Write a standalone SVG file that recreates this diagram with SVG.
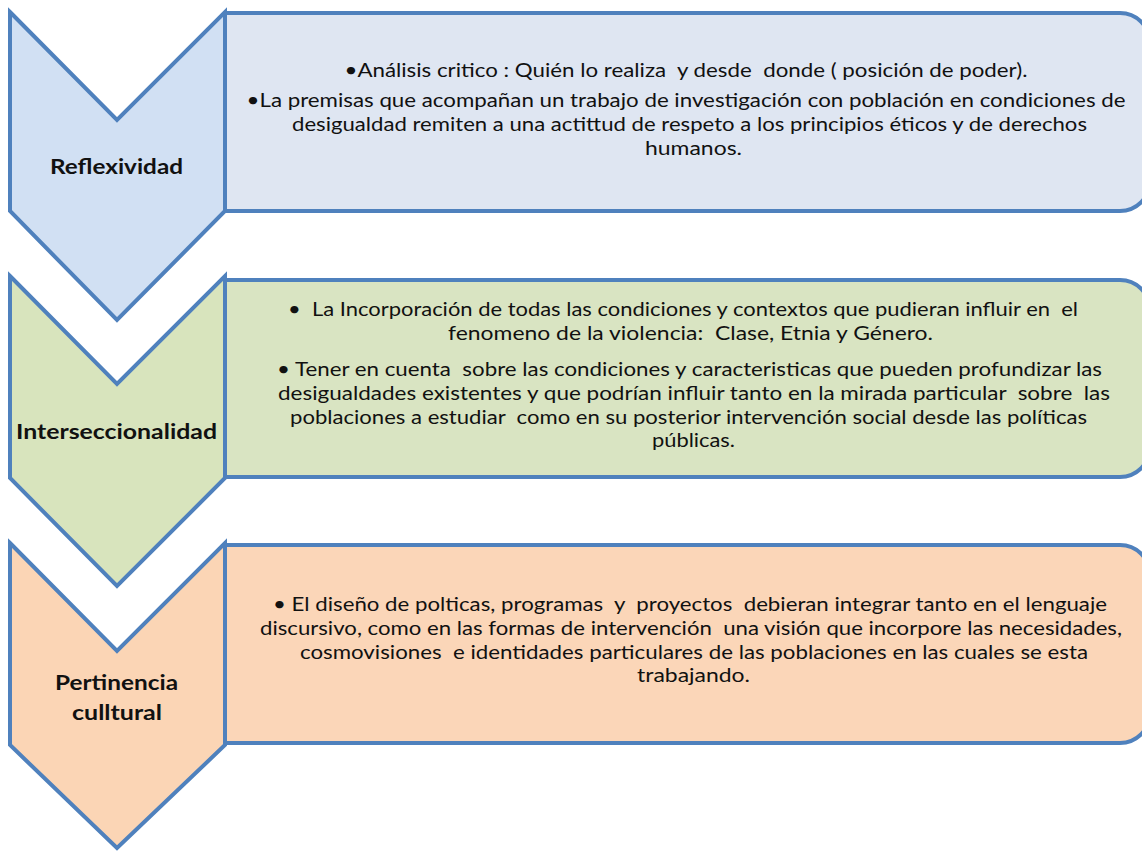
<svg xmlns="http://www.w3.org/2000/svg" width="1142" height="852" viewBox="0 0 1142 852">
<style>
.box{stroke:#4F81BD;stroke-width:4;stroke-linejoin:miter}
.chev{stroke:#4F81BD;stroke-width:4;stroke-linejoin:miter}
.t{font-family:Lato,"Open Sans","Liberation Sans",sans-serif;font-size:19.5px;fill:#111;text-anchor:middle;white-space:pre}
.lbl{font-family:Lato,"Open Sans","Liberation Sans",sans-serif;font-size:21px;font-weight:bold;fill:#111;text-anchor:middle}
</style>
<rect width="1142" height="852" fill="#ffffff"/>
<g id="connectors"></g>
<g id="box1">
<path class="box" fill="#DFE6F2" d="M225,13 H1120 A30,30 0 0 1 1150,43 V181 A30,30 0 0 1 1120,211 H225 Z"/>
<text class="t" xml:space="preserve" x="686" y="77" textLength="683" lengthAdjust="spacingAndGlyphs">•Análisis critico : Quién lo realiza  y desde  donde ( posición de poder).</text>
<text class="t" xml:space="preserve" x="686" y="107" textLength="879" lengthAdjust="spacingAndGlyphs">•La premisas que acompañan un trabajo de investigación con población en condiciones de</text>
<text class="t" xml:space="preserve" x="689.5" y="131" textLength="795" lengthAdjust="spacingAndGlyphs">desigualdad remiten a una actittud de respeto a los principios éticos y de derechos</text>
<text class="t" xml:space="preserve" x="693.5" y="155" textLength="97" lengthAdjust="spacingAndGlyphs">humanos.</text>
</g>
<g id="box2">
<path class="box" fill="#D9E4C2" d="M225,280 H1120 A30,30 0 0 1 1150,310 V447 A30,30 0 0 1 1120,477 H225 Z"/>
<text class="t" xml:space="preserve" x="683" y="316" textLength="790" lengthAdjust="spacingAndGlyphs">•  La Incorporación de todas las condiciones y contextos que pudieran influir en  el</text>
<text class="t" xml:space="preserve" x="690.5" y="340" textLength="485" lengthAdjust="spacingAndGlyphs">fenomeno de la violencia:  Clase, Etnia y Género.</text>
<text class="t" xml:space="preserve" x="689.5" y="376" textLength="825" lengthAdjust="spacingAndGlyphs">• Tener en cuenta  sobre las condiciones y caracteristicas que pueden profundizar las</text>
<text class="t" xml:space="preserve" x="694" y="400" textLength="832" lengthAdjust="spacingAndGlyphs">desigualdades existentes y que podrían influir tanto en la mirada particular  sobre  las</text>
<text class="t" xml:space="preserve" x="688.5" y="424" textLength="797" lengthAdjust="spacingAndGlyphs">poblaciones a estudiar  como en su posterior intervención social desde las políticas</text>
<text class="t" xml:space="preserve" x="693.5" y="447" textLength="83" lengthAdjust="spacingAndGlyphs">públicas.</text>
</g>
<g id="box3">
<path class="box" fill="#FBD6B8" d="M225,545 H1120 A30,30 0 0 1 1150,575 V713 A30,30 0 0 1 1120,743 H225 Z"/>
<text class="t" xml:space="preserve" x="690" y="611" textLength="834" lengthAdjust="spacingAndGlyphs">• El diseño de polticas, programas  y  proyectos  debieran integrar tanto en el lenguaje</text>
<text class="t" xml:space="preserve" x="691" y="635" textLength="862" lengthAdjust="spacingAndGlyphs">discursivo, como en las formas de intervención  una visión que incorpore las necesidades,</text>
<text class="t" xml:space="preserve" x="694" y="659" textLength="788" lengthAdjust="spacingAndGlyphs">cosmovisiones  e identidades particulares de las poblaciones en las cuales se esta</text>
<text class="t" xml:space="preserve" x="693.5" y="682" textLength="113" lengthAdjust="spacingAndGlyphs">trabajando.</text>
</g>
<g id="chevron1">
<path class="chev" fill="#D1E0F3" d="M10,12 L117,120 L225,12 L225,211 L117,320 L10,211 Z"/>
<text class="lbl" x="116.5" y="174" textLength="133" lengthAdjust="spacingAndGlyphs">Reflexividad</text>
</g>
<g id="chevron2">
<path class="chev" fill="#D8E4BD" d="M10,276 L117,384 L225,276 L225,478 L117,586 L10,478 Z"/>
<text class="lbl" x="116.5" y="439" textLength="201" lengthAdjust="spacingAndGlyphs">Interseccionalidad</text>
</g>
<g id="chevron3">
<path class="chev" fill="#FBD5B5" d="M10,543 L117,651 L225,543 L225,745 L117,848 L10,745 Z"/>
<text class="lbl" x="116.5" y="690" textLength="123" lengthAdjust="spacingAndGlyphs">Pertinencia</text>
<text class="lbl" x="117" y="720" textLength="90" lengthAdjust="spacingAndGlyphs">culltural</text>
</g>
</svg>
